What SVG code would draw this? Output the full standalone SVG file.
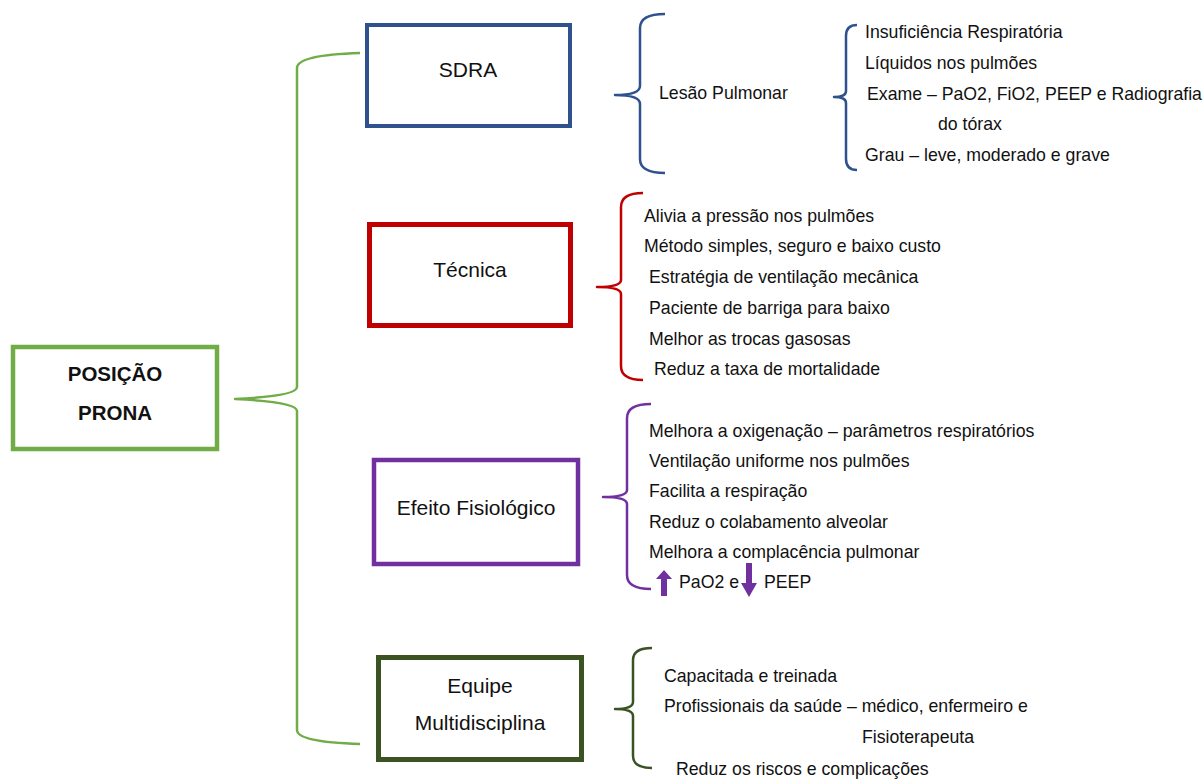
<svg xmlns="http://www.w3.org/2000/svg" width="1204" height="779" viewBox="0 0 1204 779">
<style>
text{font-family:"Liberation Sans",Arial,sans-serif;fill:#111}
.lbl{font-size:21px;text-anchor:middle}
.main{font-size:20.5px;font-weight:bold;text-anchor:middle}
.it{font-size:17.7px}
.box{fill:#fff;stroke-width:4.5}
.br{fill:none;stroke-width:2.5;stroke-linejoin:round;stroke-linecap:butt}
</style>
<rect width="1204" height="779" fill="#fff"/>
<g id="connectors">
<path class="br" stroke="#70AD47" d="M360,53 Q297,55 297,68 L297,387 Q297,396 235,399 Q297,402 297,411 L297,730 Q297,742 360,744"/>
<path class="br" stroke="#2F528F" d="M665,14 Q640,14 640,28 L640,86 Q640,95 615,95 Q640,95 640,104 L640,159 Q640,173 665,173"/>
<path class="br" stroke="#2F528F" d="M857,25 Q846,25 846,36 L846,91 Q846,97 834,97 Q846,97 846,103 L846,159 Q846,170 857,170"/>
<path class="br" stroke="#C00000" d="M643,193 Q621,193 621,207 L621,280 Q621,287 597,287 Q621,287 621,294 L621,366 Q621,380 643,380"/>
<path class="br" stroke="#7030A0" d="M651,404 Q627,404 627,418 L627,490 Q627,497 603,497 Q627,497 627,504 L627,575 Q627,589 651,589"/>
<path class="br" stroke="#3B5323" d="M652,648 Q633,648 633,660 L633,702 Q633,709 615,709 Q633,709 633,716 L633,756 Q633,768 652,768"/>
</g>
<g id="n-posicao">
<rect class="box" x="13" y="347" width="204" height="102" stroke="#70AD47"/>
<text class="main" x="115" y="381">POSIÇÃO</text>
<text class="main" x="115" y="420">PRONA</text>
</g>
<g id="n-sdra">
<rect class="box" x="367" y="25" width="203" height="101" stroke="#2F528F" style="stroke-width:4"/>
<text class="lbl" x="468" y="77">SDRA</text>
</g>
<g id="n-sdra-items">
<text class="it" x="659" y="99">Lesão Pulmonar</text>
<text class="it" x="865" y="38">Insuficiência Respiratória</text>
<text class="it" x="865" y="69">Líquidos nos pulmões</text>
<text class="it" x="867" y="100">Exame – PaO2, FiO2, PEEP e Radiografia</text>
<text class="it" x="938" y="130">do tórax</text>
<text class="it" x="865" y="161">Grau – leve, moderado e grave</text>
</g>
<g id="n-tecnica">
<rect class="box" x="369.5" y="224.5" width="201" height="101" stroke="#C00000" style="stroke-width:5"/>
<text class="lbl" x="470" y="277">Técnica</text>
</g>
<g id="n-tecnica-items">
<text class="it" x="644" y="222">Alivia a pressão nos pulmões</text>
<text class="it" x="644" y="252">Método simples, seguro e baixo custo</text>
<text class="it" x="649" y="283">Estratégia de ventilação mecânica</text>
<text class="it" x="649" y="314">Paciente de barriga para baixo</text>
<text class="it" x="649" y="345">Melhor as trocas gasosas</text>
<text class="it" x="654" y="375">Reduz a taxa de mortalidade</text>
</g>
<g id="n-efeito">
<rect class="box" x="374" y="460" width="204" height="104" stroke="#7030A0"/>
<text class="lbl" x="476" y="515">Efeito Fisiológico</text>
</g>
<g id="n-efeito-items">
<text class="it" x="649" y="437">Melhora a oxigenação – parâmetros respiratórios</text>
<text class="it" x="649" y="467">Ventilação uniforme nos pulmões</text>
<text class="it" x="649" y="497">Facilita a respiração</text>
<text class="it" x="649" y="528">Reduz o colabamento alveolar</text>
<text class="it" x="649" y="558">Melhora a complacência pulmonar</text>
<path fill="#7030A0" d="M664,570 L672,579 L667,579 L667,596 L661,596 L661,579 L656,579 Z"/>
<text class="it" x="679" y="588">PaO2 e</text>
<path fill="#7030A0" d="M746,563 L752,563 L752,583 L757,583 L749,597 L741,583 L746,583 Z"/>
<text class="it" x="764" y="588">PEEP</text>
</g>
<g id="n-equipe">
<rect class="box" x="378.5" y="657.5" width="203" height="102" stroke="#3B5323" style="stroke-width:5"/>
<text class="lbl" x="480" y="693">Equipe</text>
<text class="lbl" x="480" y="730">Multidisciplina</text>
</g>
<g id="n-equipe-items">
<text class="it" x="664" y="682">Capacitada e treinada</text>
<text class="it" x="664" y="712">Profissionais da saúde – médico, enfermeiro e</text>
<text class="it" x="862" y="743">Fisioterapeuta</text>
<text class="it" x="676" y="775">Reduz os riscos e complicações</text>
</g>
</svg>
